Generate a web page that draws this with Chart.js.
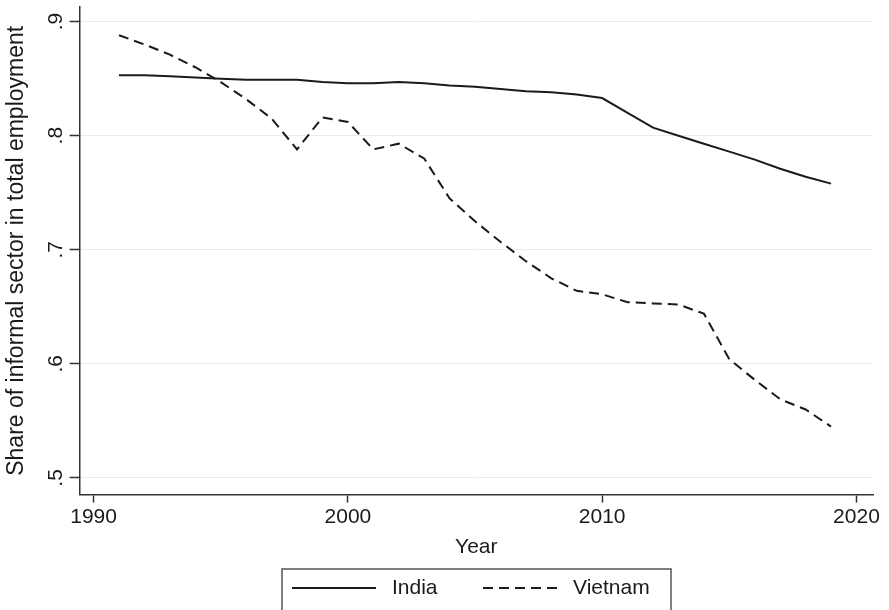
<!DOCTYPE html>
<html>
<head>
<meta charset="utf-8">
<script src="https://cdn.jsdelivr.net/npm/chart.js@4.4.0/dist/chart.umd.min.js"></script>
<style>
html,body{margin:0;padding:0;background:#fff}
#wrap{width:889px;height:610px;position:relative}
</style>
</head>
<body>
<div id="wrap"><canvas id="myChart"></canvas></div>
<script>
var years = [1991,1992,1993,1994,1995,1996,1997,1998,1999,2000,2001,2002,2003,2004,2005,
             2006,2007,2008,2009,2010,2011,2012,2013,2014,2015,2016,2017,2018,2019];
var india = [.853,.853,.852,.851,.850,.849,.849,.849,.847,.846,.846,.847,.846,.844,.843,
             .841,.839,.838,.836,.833,.820,.807,.800,.793,.786,.779,.771,.764,.758];
var vietnam = [.888,.880,.871,.860,.847,.832,.815,.788,.816,.812,.788,.793,.780,.745,.725,
               .707,.690,.675,.664,.661,.654,.653,.652,.644,.604,.586,.569,.560,.545];
var seriesNames = ["India","Vietnam"];
var xTicks = [1990,2000,2010,2020];
var yTicks = [.5,.6,.7,.8,.9];
var yTickLabels = [".5",".6",".7",".8",".9"];

var fontFam = "'Liberation Sans', Arial, sans-serif";
var ink = "#1a1a1a";

function pts(vals){
    return years.map(function(y,i){ return {x:y, y:vals[i]}; });
}

// rotated y tick labels + boxed legend, like the stata graph
var stataBits = {
    id: "stataBits",
    afterDraw: function(chart){
        var ctx = chart.ctx;
        var ys = chart.scales.y;
        ctx.save();
        ctx.fillStyle = ink;
        ctx.font = "21px " + fontFam;
        ctx.textAlign = "center";
        ctx.textBaseline = "middle";
        yTicks.forEach(function(v,i){
            var py = ys.getPixelForValue(v);
            ctx.save();
            ctx.translate(56, py);
            ctx.rotate(-Math.PI/2);
            ctx.fillText(yTickLabels[i], 0, 0);
            ctx.restore();
        });

        // legend
        ctx.strokeStyle = "#555";
        ctx.lineWidth = 1.5;
        ctx.strokeRect(282, 569, 389, 60);
        var items = [{x0:292, x1:376, tx:392}, {x0:483, x1:561, tx:573}];
        chart.data.datasets.forEach(function(ds,i){
            var it = items[i];
            var ly = 588;
            ctx.strokeStyle = ds.borderColor;
            ctx.lineWidth = 2;
            ctx.setLineDash(ds.borderDash || []);
            ctx.beginPath();
            ctx.moveTo(it.x0, ly);
            ctx.lineTo(it.x1, ly);
            ctx.stroke();
            ctx.setLineDash([]);
            ctx.textAlign = "left";
            ctx.fillStyle = ink;
            ctx.fillText(ds.label, it.tx, ly);
        });
        ctx.restore();
    }
};

new Chart("myChart", {
    type: "line",
    data: {
        datasets: [{
            label: seriesNames[0],
            data: pts(india),
            borderColor: ink,
            borderWidth: 2,
            pointRadius: 0,
            tension: 0
        },{
            label: seriesNames[1],
            data: pts(vietnam),
            borderColor: ink,
            borderWidth: 2,
            borderDash: [10,6],
            pointRadius: 0,
            tension: 0
        }]
    },
    options: {
        responsive: true,
        maintainAspectRatio: false,
        animation: false,
        layout: { padding: { left: 0, right: 16, top: 7, bottom: 50 } },
        plugins: {
            legend: { display: false },
            tooltip: { enabled: false }
        },
        scales: {
            x: {
                type: "linear",
                min: 1989.45,
                max: 2020.65,
                afterBuildTicks: function(s){ s.ticks = xTicks.map(function(v){ return {value:v}; }); },
                ticks: {
                    color: ink,
                    padding: 2,
                    font: { family: fontFam, size: 21 },
                    callback: function(v){ return String(v); },
                    maxRotation: 0
                },
                grid: { drawOnChartArea: false, drawTicks: true, tickLength: 8, tickColor: "#333", tickWidth: 1.5 },
                border: { display: true, color: "#333", width: 1.5 },
                title: {
                    display: true,
                    text: "Year",
                    color: ink,
                    font: { family: fontFam, size: 21 },
                    padding: { top: 3, bottom: 0 }
                }
            },
            y: {
                min: 0.4854,
                max: 0.9128,
                afterBuildTicks: function(s){ s.ticks = yTicks.map(function(v){ return {value:v}; }); },
                ticks: { display: false },
                grid: { color: "#ebebeb", lineWidth: 1, drawTicks: true, tickLength: 10, tickColor: "#333", tickWidth: 1.5 },
                border: { display: true, color: "#333", width: 1.5 },
                title: {
                    display: true,
                    text: "Share of informal sector in total employment",
                    color: ink,
                    font: { family: fontFam, size: 23 },
                    padding: { top: 3, bottom: 39 }
                }
            }
        }
    },
    plugins: [stataBits]
});
</script>
</body>
</html>
